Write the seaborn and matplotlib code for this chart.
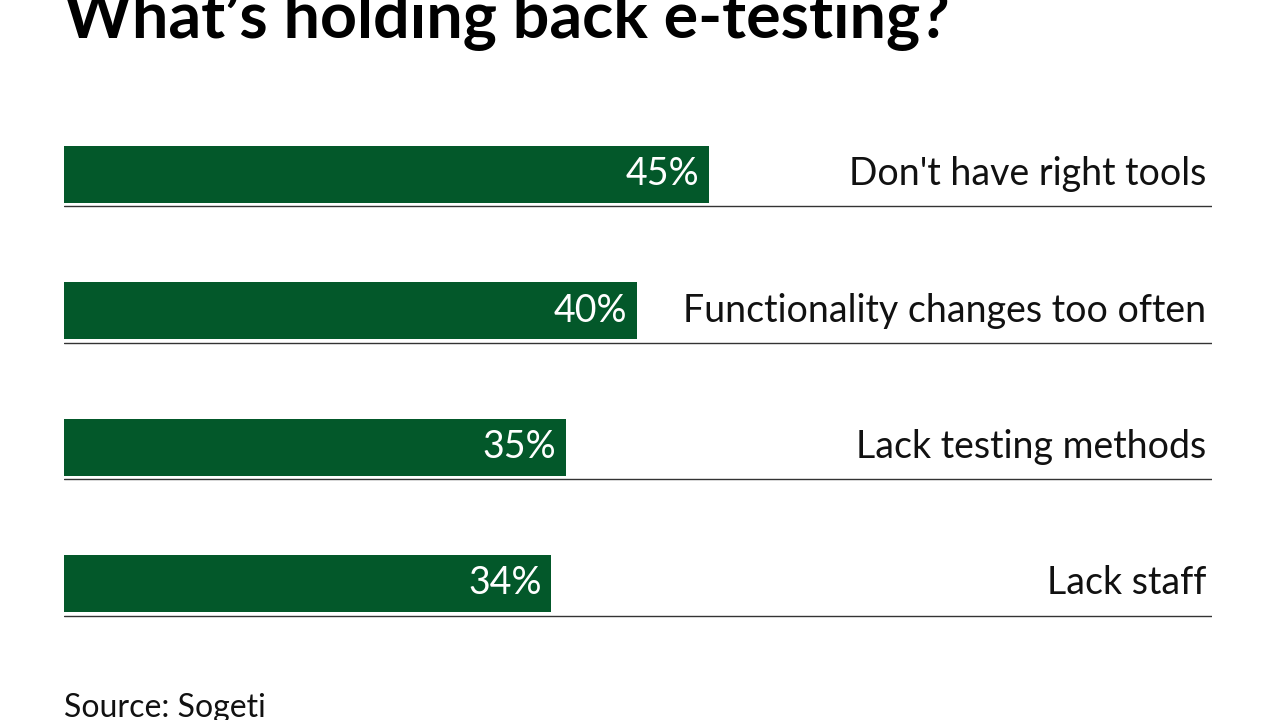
import matplotlib
matplotlib.use("Agg")
import matplotlib.pyplot as plt
import seaborn as sns
import pandas as pd

# --- Data ---
categories = ["Don't have right tools", "Functionality changes too often",
              "Lack testing methods", "Lack staff"]
values = [45, 40, 35, 34]
value_labels = ["45%", "40%", "35%", "34%"]

df = pd.DataFrame({"category": categories, "value": values})

sns.set_style("white")
plt.rcParams['font.family'] = ['Lato', 'DejaVu Sans']

fig = plt.figure(figsize=(12.8, 7.2), dpi=100)
ax = fig.add_axes([0.05, 0.0949, 0.8969, 0.7575])

bar_color = "#03582A"
sns.barplot(data=df, x="value", y="category", orient="h", color=bar_color,
            saturation=1, width=0.42, linewidth=0, ax=ax)

ax.set_xlim(0, 80.1)
ax.set_ylim(3.5, -0.5)

for i, (v, lab, cat) in enumerate(zip(values, value_labels, categories)):
    ax.annotate(lab, xy=(v, i), xytext=(-7, 0), textcoords="offset points",
                ha="right", va="center", color="white", fontsize=27)
    ax.annotate(cat, xy=(1, i), xycoords=("axes fraction", "data"),
                xytext=(-4, 0), textcoords="offset points",
                ha="right", va="center", color="#111111", fontsize=27)
    ax.axhline(i + 0.235, color="#333333", linewidth=1.0)

ax.set_xlabel("")
ax.set_ylabel("")
ax.set_xticks([])
ax.set_yticks([])
sns.despine(ax=ax, left=True, bottom=True)

fig.text(64 / 1280, 1 - 38 / 720, "What\u2019s holding back e-testing?",
         fontsize=46.5, fontweight="bold", ha="left", va="baseline", color="black")
fig.text(64 / 1280, 1 - 717 / 720, "Source: Sogeti", fontsize=23,
         ha="left", va="baseline", color="#111111")

fig.savefig("out.png", dpi=100)
